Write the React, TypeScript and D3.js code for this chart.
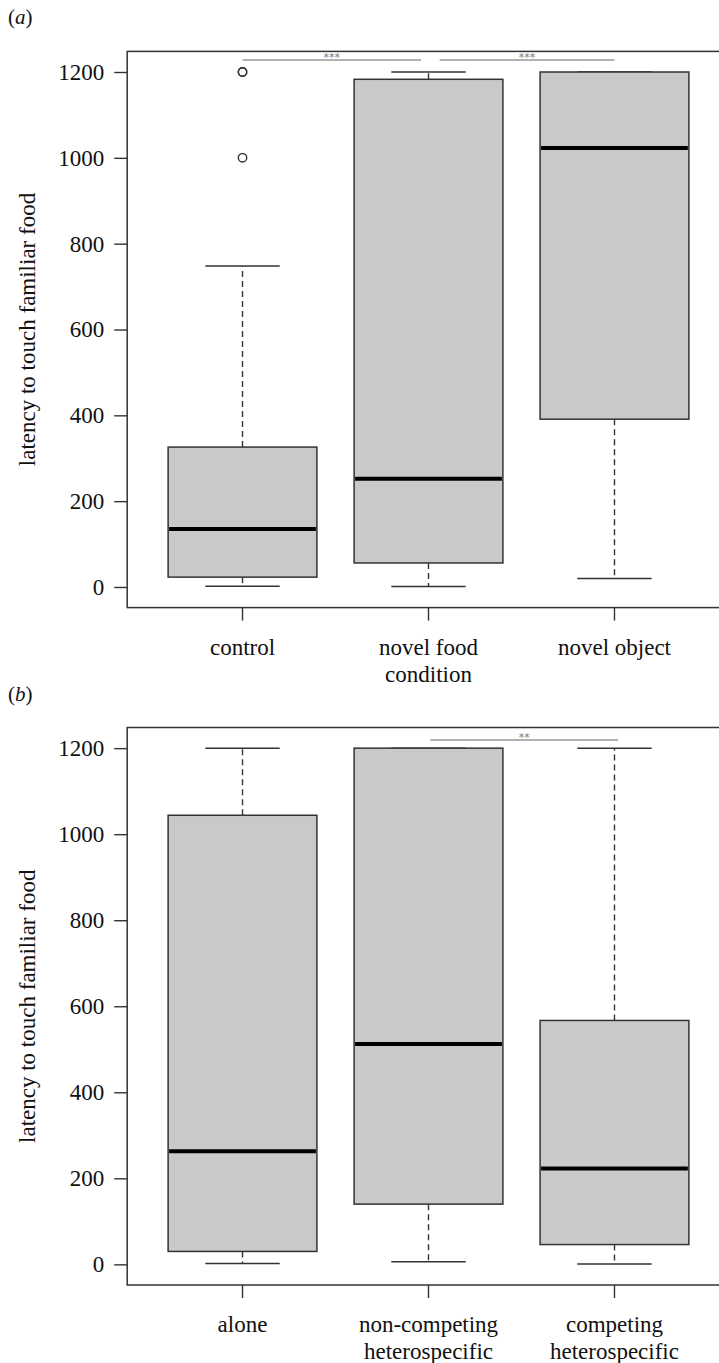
import React, { useRef, useEffect } from 'react';
import * as d3 from 'd3';

// panel (a)
const labelsA = [["control"], ["novel food", "condition"], ["novel object"]];
const lowA = [2, 1, 20];
const q1A = [23, 56, 391];
const medA = [135, 252, 1023];
const q3A = [326, 1183, 1200];
const highA = [748, 1200, 1200];
const outA = [[1200, 1200, 1000], [], []];
const sigA = [
    { x1: 1, x2: 1.96, y: 1228, text: "***" },
    { x1: 2.06, x2: 3, y: 1228, text: "***" },
];

// panel (b)
const labelsB = [["alone"], ["non-competing", "heterospecific"], ["competing", "heterospecific"]];
const lowB = [2, 6, 1];
const q1B = [30, 140, 46];
const medB = [263, 512, 223];
const q3B = [1044, 1200, 567];
const highB = [1200, 1200, 1200];
const outB: number[][] = [[], [], []];
const sigB = [{ x1: 2.01, x2: 3.02, y: 1219, text: "**" }];

const yTicks = [0, 200, 400, 600, 800, 1000, 1200];
const yLabel = "latency to touch familiar food";

const W = 719;
const H = 1363;
const font = "'Liberation Serif', 'Times New Roman', 'DejaVu Serif', serif";
const fs = 23;

const drawPanel = (svg: any, cfg: any) => {
    const { top, bottom, tag, labels, low, q1, med, q3, high, outs, sigs } = cfg;
    const x = d3.scaleLinear().domain([0.38, 3.62]).range([127.2, 729.8]);
    const y = d3.scaleLinear().domain([-48, 1248]).range([bottom, top]);
    const g = svg.append("g").style("font-family", font);
    const bw = 0.8, cw = 0.4;
    const idx = d3.range(labels.length);

    // panel tag
    const t = g.append("text").attr("x", 8).attr("y", top - 27)
        .style("font-family", font).attr("font-size", 21).attr("fill", "#111");
    t.append("tspan").text("(");
    t.append("tspan").attr("font-style", "italic").text(tag);
    t.append("tspan").text(")");

    // whiskers
    const dash = "6,4";
    g.selectAll(".wlo").data(idx).join("line")
        .attr("x1", (i: number) => x(i + 1)).attr("x2", (i: number) => x(i + 1))
        .attr("y1", (i: number) => y(q1[i])).attr("y2", (i: number) => y(low[i]))
        .attr("stroke", "#333").attr("stroke-width", 1.4).attr("stroke-dasharray", dash);
    g.selectAll(".whi").data(idx).join("line")
        .attr("x1", (i: number) => x(i + 1)).attr("x2", (i: number) => x(i + 1))
        .attr("y1", (i: number) => y(q3[i])).attr("y2", (i: number) => y(high[i]))
        .attr("stroke", "#333").attr("stroke-width", 1.4).attr("stroke-dasharray", dash);
    // caps
    [low, high].forEach(arr => {
        g.append("g").selectAll("line").data(idx).join("line")
            .attr("x1", (i: number) => x(i + 1 - cw / 2)).attr("x2", (i: number) => x(i + 1 + cw / 2))
            .attr("y1", (i: number) => y(arr[i])).attr("y2", (i: number) => y(arr[i]))
            .attr("stroke", "#333").attr("stroke-width", 1.5);
    });
    // boxes
    g.append("g").selectAll("rect").data(idx).join("rect")
        .attr("x", (i: number) => x(i + 1 - bw / 2))
        .attr("width", (i: number) => x(i + 1 + bw / 2) - x(i + 1 - bw / 2))
        .attr("y", (i: number) => y(q3[i]))
        .attr("height", (i: number) => y(q1[i]) - y(q3[i]))
        .attr("fill", "#c9c9c9").attr("stroke", "#333").attr("stroke-width", 1.5);
    // medians
    g.append("g").selectAll("line").data(idx).join("line")
        .attr("x1", (i: number) => x(i + 1 - bw / 2) + 1).attr("x2", (i: number) => x(i + 1 + bw / 2) - 1)
        .attr("y1", (i: number) => y(med[i])).attr("y2", (i: number) => y(med[i]))
        .attr("stroke", "#000").attr("stroke-width", 4);
    // outliers
    const pts = idx.flatMap((i: number) => outs[i].map((v: number) => ({ i, v })));
    g.append("g").selectAll("circle").data(pts).join("circle")
        .attr("cx", (d: any) => x(d.i + 1)).attr("cy", (d: any) => y(d.v)).attr("r", 4.2)
        .attr("fill", "none").attr("stroke", "#333").attr("stroke-width", 1.4);

    // significance bars
    sigs.forEach((s: any) => {
        g.append("line").attr("x1", x(s.x1)).attr("x2", x(s.x2))
            .attr("y1", y(s.y)).attr("y2", y(s.y))
            .attr("stroke", "#999").attr("stroke-width", 1.5);
        g.append("text").attr("x", x((s.x1 + s.x2) / 2)).attr("y", y(s.y) + 1)
            .attr("text-anchor", "middle").style("font-family", "'DejaVu Sans', sans-serif")
            .attr("font-size", 11).attr("fill", "#777").text(s.text);
    });

    // frame
    g.append("rect").attr("x", x(0.38)).attr("y", top)
        .attr("width", x(3.62) - x(0.38)).attr("height", bottom - top)
        .attr("fill", "none").attr("stroke", "#333").attr("stroke-width", 1.5);

    // y axis
    const ya = g.append("g").attr("transform", `translate(${x(0.38)},0)`)
        .call(d3.axisLeft(y).tickValues(yTicks).tickSize(13).tickPadding(10).tickFormat(d3.format("d")));
    ya.attr("font-size", fs).attr("font-family", null);
    ya.select(".domain").remove();
    ya.selectAll("line").attr("stroke", "#333").attr("stroke-width", 1.4);
    ya.selectAll("text").attr("fill", "#111").style("font-family", font);

    // x axis ticks
    g.append("g").selectAll("line").data(idx).join("line")
        .attr("x1", (i: number) => x(i + 1)).attr("x2", (i: number) => x(i + 1))
        .attr("y1", bottom).attr("y2", bottom + 13)
        .attr("stroke", "#333").attr("stroke-width", 1.4);
    // x labels
    const xl = g.append("g").selectAll("text").data(idx).join("text")
        .attr("text-anchor", "middle").style("font-family", font).attr("font-size", fs)
        .attr("fill", "#111");
    xl.each(function (this: any, i: number) {
        const el = d3.select(this);
        labels[i].forEach((line: string, k: number) => {
            el.append("tspan").attr("x", x(i + 1)).attr("y", bottom + 47 + k * 27).text(line);
        });
    });

    // y label
    g.append("text")
        .attr("transform", `translate(35,${(top + bottom) / 2}) rotate(-90)`)
        .attr("text-anchor", "middle").style("font-family", font).attr("font-size", fs)
        .attr("fill", "#111").text(yLabel);
};

const App = () => {
    const ref = useRef<SVGSVGElement | null>(null);

    useEffect(() => {
        if (!ref.current) return;
        const svg = d3.select(ref.current);
        svg.selectAll("*").remove();
        svg.append("rect").attr("width", W).attr("height", H).attr("fill", "#fff");

        drawPanel(svg, {
            top: 51.4, bottom: 607.6, tag: "a", labels: labelsA,
            low: lowA, q1: q1A, med: medA, q3: q3A, high: highA, outs: outA, sigs: sigA,
        });
        drawPanel(svg, {
            top: 727.5, bottom: 1285, tag: "b", labels: labelsB,
            low: lowB, q1: q1B, med: medB, q3: q3B, high: highB, outs: outB, sigs: sigB,
        });
    }, []);

    return (
        <svg ref={ref} width={W} height={H}
            style={{ position: "absolute", left: 0, top: 0, display: "block" }} />
    );
};

export default App;
